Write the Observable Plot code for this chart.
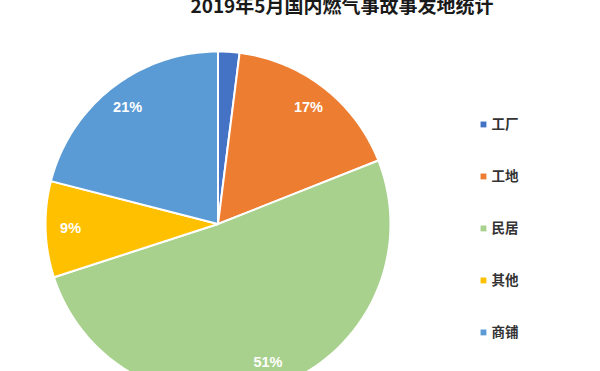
<!DOCTYPE html>
<html>
<head>
<meta charset="utf-8">
<script src="https://cdn.jsdelivr.net/npm/d3@7"></script>
<script src="https://cdn.jsdelivr.net/npm/@observablehq/plot@0.6"></script>
<style>
  html, body { margin: 0; padding: 0; background: #fff; }
  #title { display: block; }
</style>
</head>
<body>
<svg id="title" width="600" height="16" style="overflow:visible">
  <text x="342" y="13" text-anchor="middle" font-family="'Noto Sans CJK SC', sans-serif" font-weight="bold" font-size="19" fill="#1a1a1a">2019年5月国内燃气事故事发地统计</text>
</svg>
<div id="chart"></div>
<script>
const categories = ["工厂", "工地", "民居", "其他", "商铺"];
const values = [2, 17, 51, 9, 21];
const palette = ["#4472C4", "#ED7D31", "#A9D18E", "#FFC000", "#5B9BD5"];

// pie geometry in unit (data) coordinates, clockwise from 12 o'clock
const arcs = d3.pie().sort(null).startAngle(0).endAngle(2 * Math.PI)(values);
const slicePoints = [];
arcs.forEach((a, i) => {
  slicePoints.push({name: categories[i], x: 0, y: 0});
  const steps = Math.max(2, Math.ceil((a.endAngle - a.startAngle) / (Math.PI / 180)));
  for (let k = 0; k <= steps; k++) {
    const t = a.startAngle + (a.endAngle - a.startAngle) * k / steps;
    slicePoints.push({name: categories[i], x: Math.sin(t), y: Math.cos(t)});
  }
});

const labelR = 0.855;
const labels = arcs.map((a, i) => {
  const m = (a.startAngle + a.endAngle) / 2;
  return {text: values[i] + "%", v: values[i], x: labelR * Math.sin(m), y: labelR * Math.cos(m)};
}).filter(d => d.v >= 5);

// legend in the same unit coordinates (right of the pie)
const legend = categories.map((c, i) => ({name: c, x: 1.539, tx: 1.586, y: 0.577 - i * 0.3014}));

const chart = Plot.plot({
  width: 600,
  height: 355,
  margin: 0,
  x: {domain: [-1, 1], range: [45, 390], axis: null},
  y: {domain: [-1, 1], range: [380, 35], axis: null},
  color: {type: "ordinal", domain: categories, range: palette, legend: false},
  style: {background: "white", overflow: "hidden"},
  marks: [
    Plot.line(slicePoints, {x: "x", y: "y", z: "name", fill: "name", stroke: "white", strokeWidth: 2, strokeLinejoin: "round", curve: "linear-closed"}),
    Plot.text(labels, {x: "x", y: "y", text: "text", fill: "white", fontSize: 14.5, fontWeight: "bold", fontFamily: "'Liberation Sans', Arial, sans-serif"}),
    Plot.dot(legend, {x: "x", y: "y", symbol: "square", r: 3.3, fill: "name", stroke: null}),
    Plot.text(legend, {x: "tx", y: "y", text: "name", textAnchor: "start", fill: "#333", fontSize: 13.5, fontWeight: "bold", fontFamily: "'Noto Sans CJK SC', sans-serif"})
  ]
});
document.getElementById("chart").appendChild(chart);
</script>
</body>
</html>
